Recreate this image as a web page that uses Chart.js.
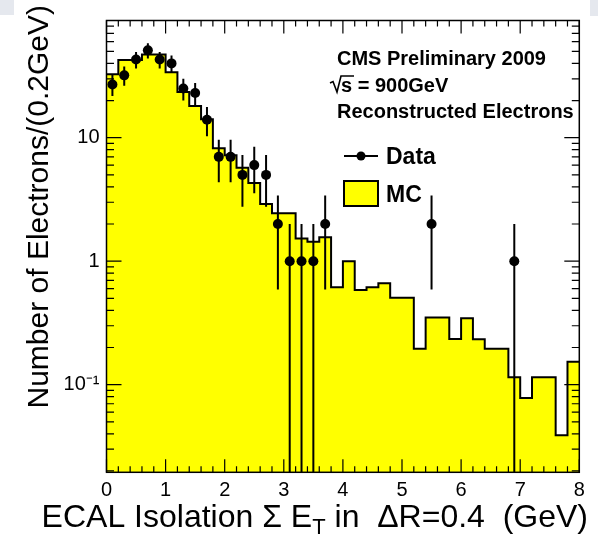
<!DOCTYPE html>
<html>
<head>
<meta charset="utf-8">
<script src="https://cdn.jsdelivr.net/npm/chart.js@4/dist/chart.umd.min.js"></script>
<style>
html,body{margin:0;padding:0;background:#fff;}
#wrap{position:relative;width:598px;height:538px;overflow:hidden;}
.patch{position:absolute;background:#e5e8ee;}
canvas{position:absolute;left:0;top:0;}
</style>
</head>
<body>
<div id="wrap">
<div class="patch" style="left:0;top:0;width:14px;height:15px;"></div>
<div class="patch" style="left:590px;top:0;width:8px;height:16px;"></div>
<canvas id="c" width="598" height="538"></canvas>
</div>
<script>
// ---- data ----
const binEdges = [0.0,0.2,0.4,0.6,0.8,1.0,1.2,1.4,1.6,1.8,2.0,2.2,2.4,2.6,2.8,3.0,3.2,3.4,3.6,3.8,
                  4.0,4.2,4.4,4.6,4.8,5.0,5.2,5.4,5.6,5.8,6.0,6.2,6.4,6.6,6.8,7.0,7.2,7.4,7.6,7.8,8.0];
const mcValues = [32.6,42.6,42.6,47.3,47.3,33.9,23.5,18.1,14.1,8.2,
                  7.2,5.7,4.3,2.9,2.45,2.45,1.53,1.44,1.56,0.615,
                  1.0,0.585,0.615,0.662,0.506,0.506,0.195,0.349,0.349,0.234,
                  0.345,0.233,0.195,0.195,0.115,0.078,0.115,0.115,0.039,0.153];
const dataCenters = [0.1,0.3,0.5,0.7,0.9,1.1,1.3,1.5,1.7,1.9,2.1,2.3,2.5,2.7,2.9,3.1,3.3,3.5,3.7,5.5,6.9];
const dataCounts  = [27,32,43,51,43,40,25,23,14,7,7,5,6,5,2,1,1,1,2,2,1];
const dataErrors  = [5.2,5.66,6.56,7.14,6.56,6.32,5.0,4.8,3.74,2.65,2.65,2.24,2.45,2.24,1.41,1,1,1,1.41,1.41,1];
const xTickValues = [0,1,2,3,4,5,6,7,8];
const xTickLabels = ['0','1','2','3','4','5','6','7','8'];
const yTickValues = [0.1,1,10];
const yTickLabels = ['10⁻¹','1','10'];
const headerLines = ['CMS Preliminary 2009','s = 900GeV','Reconstructed Electrons'];
const legendLabels = ['Data','MC'];
const xTitleParts = ['ECAL Isolation Σ E','T',' in  ΔR=0.4  (GeV)'];
const yTitle = 'Number of Electrons/(0.2GeV)';

const FONT = '"Liberation Sans", Arial, Helvetica, sans-serif';
const YELLOW = '#ffff00';

// each bin's left edge carries that bin's value; the last edge closes the final bin
const mcPoints = binEdges.map((x, i) => ({x: x, y: mcValues[Math.min(i, mcValues.length - 1)]}));
const dataPoints = dataCenters.map((x, i) => ({x: x, y: dataCounts[i]}));

const decor = {
  id: 'decor',
  afterDatasetsDraw(chart) {
    const ctx = chart.ctx, xs = chart.scales.x, ys = chart.scales.y, a = chart.chartArea;
    ctx.save();
    ctx.beginPath(); ctx.rect(a.left, a.top, a.right - a.left, a.bottom - a.top); ctx.clip();
    ctx.strokeStyle = '#000'; ctx.lineWidth = 2;
    dataCenters.forEach((c, i) => {
      const px = xs.getPixelForValue(c);
      const hi = ys.getPixelForValue(dataCounts[i] + dataErrors[i]);
      const lowV = dataCounts[i] - dataErrors[i];
      const lo = lowV > 0 ? ys.getPixelForValue(lowV) : a.bottom;
      ctx.beginPath(); ctx.moveTo(px, hi); ctx.lineTo(px, lo); ctx.stroke();
    });
    ctx.restore();
  },
  afterDraw(chart) {
    const ctx = chart.ctx, xs = chart.scales.x, ys = chart.scales.y, a = chart.chartArea;
    ctx.save();
    // frame
    ctx.strokeStyle = '#000'; ctx.lineWidth = 1.5;
    ctx.strokeRect(a.left, a.top, a.right - a.left, a.bottom - a.top);
    ctx.lineWidth = 1.2;
    // x ticks (major every 1, minor every 0.2) bottom and top
    for (let k = 0; k <= 40; k++) {
      const v = k * 0.2;
      const px = xs.getPixelForValue(v);
      const len = (k % 5 === 0) ? 13 : 6;
      ctx.beginPath();
      ctx.moveTo(px, a.bottom); ctx.lineTo(px, a.bottom - len);
      ctx.moveTo(px, a.top); ctx.lineTo(px, a.top + len);
      ctx.stroke();
    }
    // y ticks left and right
    const decades = [0.01, 0.1, 1, 10];
    decades.forEach(d => {
      for (let m = 1; m <= 9; m++) {
        const v = d * m;
        if (v < ys.min || v > ys.max) continue;
        const py = ys.getPixelForValue(v);
        const len = (m === 1) ? 15 : 7.5;
        ctx.beginPath();
        ctx.moveTo(a.left, py); ctx.lineTo(a.left + len, py);
        ctx.moveTo(a.right, py); ctx.lineTo(a.right - len, py);
        ctx.stroke();
      }
    });
    // header text
    ctx.fillStyle = '#000';
    ctx.textAlign = 'left'; ctx.textBaseline = 'alphabetic';
    ctx.font = 'bold 20px ' + FONT;
    ctx.fillText(headerLines[0], 337, 64.5);
    // sqrt sign
    ctx.lineWidth = 1.6;
    ctx.beginPath();
    ctx.moveTo(330, 83); ctx.lineTo(333, 81.5); ctx.lineTo(337, 92); ctx.lineTo(341, 76); ctx.lineTo(354, 76);
    ctx.stroke();
    ctx.fillText(headerLines[1], 341, 91.5);
    ctx.fillText(headerLines[2], 337, 117.5);
    // legend
    ctx.lineWidth = 2;
    ctx.beginPath(); ctx.moveTo(344, 156); ctx.lineTo(378, 156); ctx.stroke();
    ctx.beginPath(); ctx.arc(361, 156, 4.5, 0, Math.PI * 2); ctx.fill();
    ctx.font = 'bold 23px ' + FONT;
    ctx.fillText(legendLabels[0], 386, 164);
    ctx.fillStyle = YELLOW;
    ctx.fillRect(344, 181, 34, 25);
    ctx.strokeRect(344, 181, 34, 25);
    ctx.fillStyle = '#000';
    ctx.fillText(legendLabels[1], 386, 202);
    // x title
    const big = '32px ' + FONT, small = '22px ' + FONT;
    ctx.font = big;
    const w0 = ctx.measureText(xTitleParts[0]).width;
    ctx.font = small;
    const w1 = ctx.measureText(xTitleParts[1]).width;
    ctx.font = big;
    const w2 = ctx.measureText(xTitleParts[2]).width;
    let x0 = 588 - (w0 + w1 + w2);
    const base = 527;
    ctx.fillText(xTitleParts[0], x0, base);
    ctx.font = small;
    ctx.fillText(xTitleParts[1], x0 + w0, base + 7);
    ctx.font = big;
    ctx.fillText(xTitleParts[2], x0 + w0 + w1, base);
    // y title
    ctx.save();
    ctx.translate(48, 5);
    ctx.rotate(-Math.PI / 2);
    ctx.textAlign = 'right';
    ctx.font = '30px ' + FONT;
    ctx.fillText(yTitle, 0, 0);
    ctx.restore();
    ctx.restore();
  }
};

new Chart(document.getElementById('c'), {
  type: 'line',
  data: {
    datasets: [
      {
        label: 'MC', data: mcPoints, stepped: 'before', fill: 'start',
        backgroundColor: YELLOW, borderColor: '#000', borderWidth: 2,
        pointRadius: 0, order: 1
      },
      {
        type: 'scatter', label: 'Data', data: dataPoints, showLine: false,
        pointRadius: 5, pointBackgroundColor: '#000', pointBorderColor: '#000',
        pointBorderWidth: 0, order: 0
      }
    ]
  },
  options: {
    responsive: false, animation: false, devicePixelRatio: 1,
    layout: { padding: { top: 20.5, right: 18.7, left: 0, bottom: 0 } },
    plugins: { legend: { display: false }, tooltip: { enabled: false } },
    scales: {
      x: {
        type: 'linear', min: 0, max: 8,
        grid: { display: false, drawTicks: false }, border: { display: false },
        afterBuildTicks: s => { s.ticks = xTickValues.map(v => ({value: v})); },
        ticks: {
          autoSkip: false, maxRotation: 0, padding: 6, color: '#000',
          font: { family: FONT, size: 20 },
          callback: (v) => xTickLabels[xTickValues.indexOf(v)]
        },
        afterFit: s => { s.height = 65.7; }
      },
      y: {
        type: 'logarithmic', min: 0.0195, max: 89,
        grid: { display: false, drawTicks: false }, border: { display: false },
        afterBuildTicks: s => { s.ticks = yTickValues.map(v => ({value: v})); },
        ticks: {
          autoSkip: false, padding: 7, color: '#000',
          font: { family: FONT, size: 20 },
          callback: (v) => yTickLabels[yTickValues.indexOf(v)]
        },
        afterFit: s => { s.width = 106.5; }
      }
    }
  },
  plugins: [decor]
});
</script>
</body>
</html>
